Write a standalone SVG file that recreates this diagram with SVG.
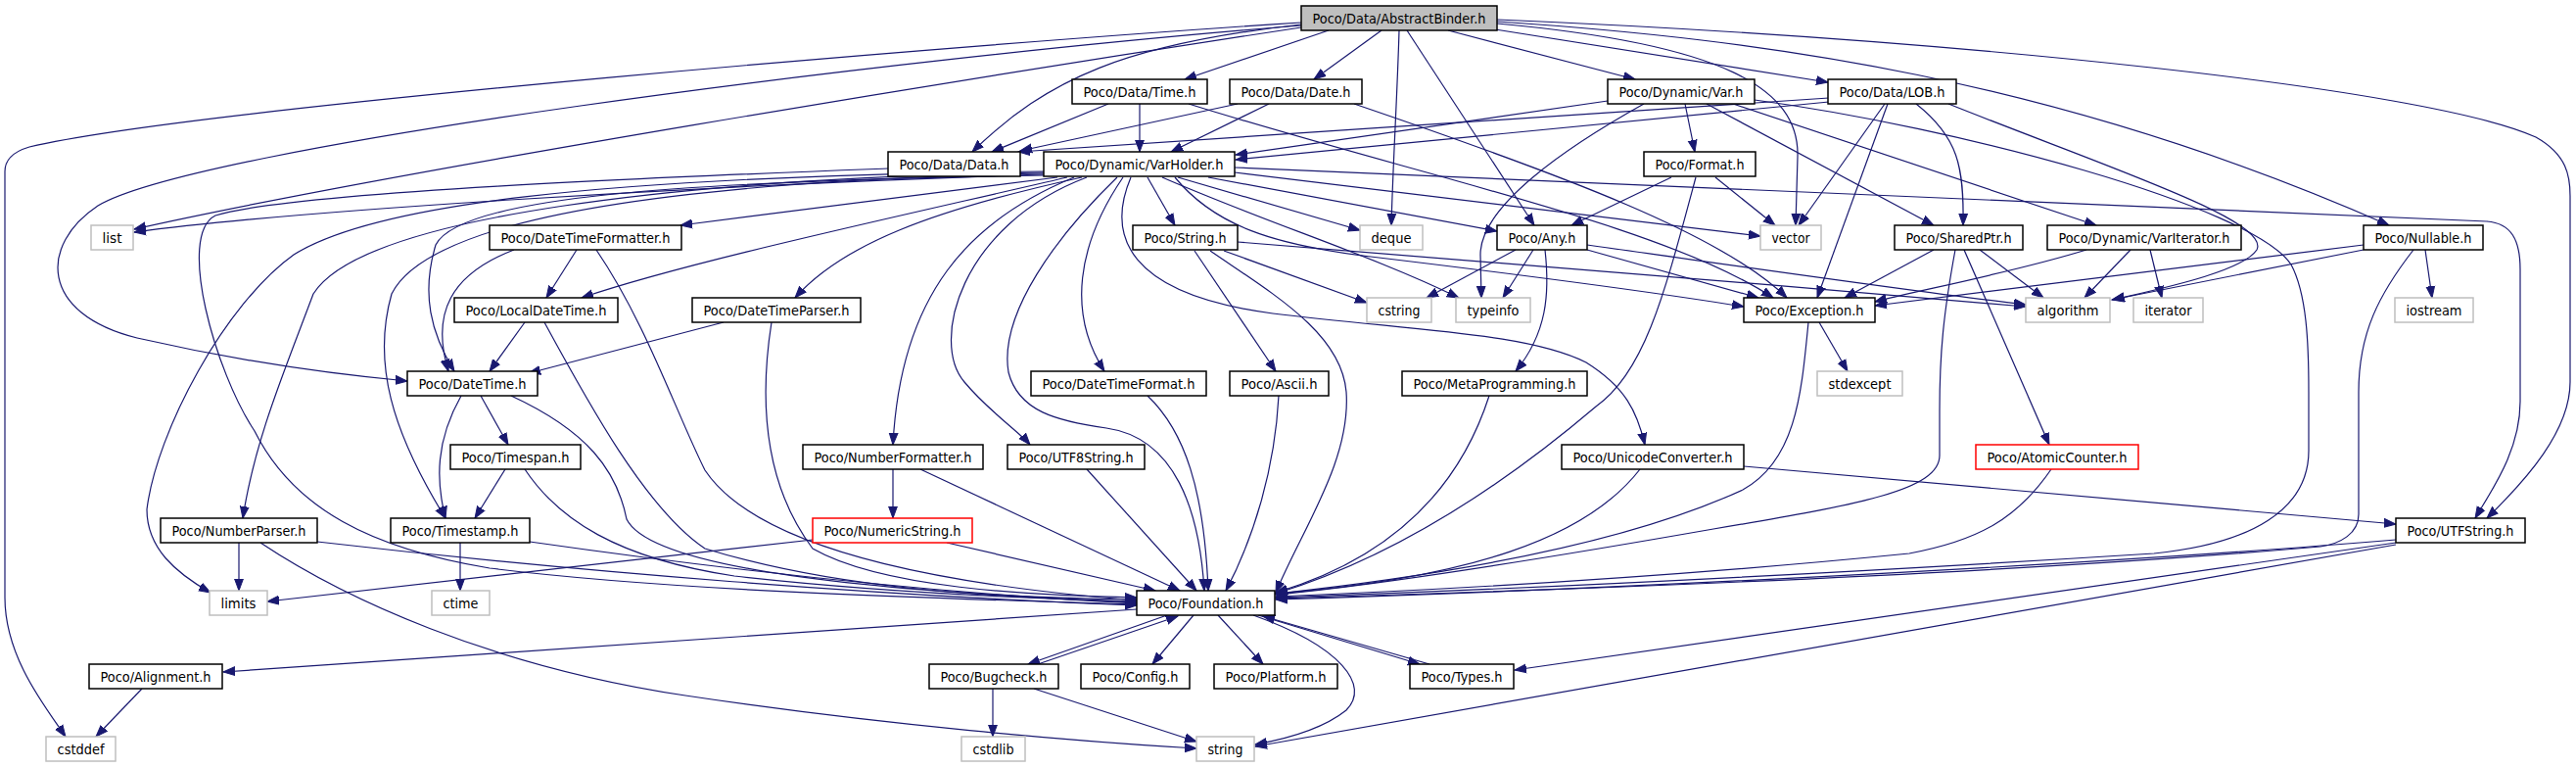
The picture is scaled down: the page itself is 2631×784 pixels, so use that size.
<svg xmlns="http://www.w3.org/2000/svg" width="2631" height="784" viewBox="0 0 2631 784">
<defs>
<marker id="ah" markerUnits="userSpaceOnUse" markerWidth="14" markerHeight="11" refX="12" refY="5" orient="auto" viewBox="0 0 14 10">
<path d="M0,0.6 L12,5 L0,9.4 Z" fill="#191970" stroke="#191970" stroke-width="1"/>
</marker>
<style>
.e{fill:none;stroke:#191970;stroke-width:1.2;marker-end:url(#ah)}
.n rect{fill:#ffffff;stroke:#000000;stroke-width:1.5}
.x rect{stroke:#bfbfbf}
.r rect{stroke:#ff0000}
.root rect{fill:#bfbfbf}
text{font-family:"DejaVu Sans Condensed","DejaVu Sans",sans-serif;font-stretch:condensed;font-size:14px;text-anchor:middle;fill:#000000}
</style>
</defs>
<rect x="0" y="0" width="2631" height="784" fill="#ffffff"/>
<g id="edges">
<!-- AbstractBinder -->
<path class="e" d="M1329,23 C1000,44 200,110 30,150 C10,156 5,165 5,175 L5,610 C5,670 45,720 67,752"/>
<path class="e" d="M1329,28 C1000,78 400,175 137,234"/>
<path class="e" d="M1329,26 C900,60 200,150 100,210 C40,250 40,320 140,345 C250,370 350,383 416,389"/>
<path class="e" d="M1329,25 C1150,45 1070,80 993,155"/>
<path class="e" d="M1357,31 L1210,81"/>
<path class="e" d="M1411,31 L1342,81"/>
<path class="e" d="M1429,31 C1427,100 1423,160 1421,230"/>
<path class="e" d="M1437,31 L1567,230"/>
<path class="e" d="M1479,31 L1670,81"/>
<path class="e" d="M1527,30 L1867,84"/>
<path class="e" d="M1529,24 C1760,45 1838,90 1836,160 L1834,230"/>
<path class="e" d="M1529,22 C1800,40 2100,80 2440,230"/>
<path class="e" d="M1529,20 C2000,40 2480,90 2590,140 C2622,158 2625,180 2625,200 L2625,390 C2625,440 2580,490 2540,529"/>
<!-- Data/Time.h -->
<path class="e" d="M1132,106 L1013,155"/>
<path class="e" d="M1164,106 L1164,155"/>
<path class="e" d="M1214,106 C1450,180 1700,230 1811,304"/>
<!-- Data/Date.h -->
<path class="e" d="M1264,106 L1042,154"/>
<path class="e" d="M1296,106 L1196,155"/>
<path class="e" d="M1383,106 C1600,180 1760,240 1825,304"/>
<!-- Dynamic/Var.h -->
<path class="e" d="M1642,103 L1262,158"/>
<path class="e" d="M1721,106 L1731,155"/>
<path class="e" d="M1679,106 C1600,150 1512,210 1512,260 L1513,304"/>
<path class="e" d="M1743,106 L1975,230"/>
<path class="e" d="M1770,106 L2141,230"/>
<path class="e" d="M1792,102 C2000,130 2300,210 2340,270 C2356,300 2358,350 2358,400 L2358,460 C2358,520 2300,555 2200,565 C1800,590 1500,603 1303,610"/>
<!-- Data/LOB.h -->
<path class="e" d="M1868,100 L1040,155"/>
<path class="e" d="M1868,104 L1262,163"/>
<path class="e" d="M1957,106 C2000,140 2006,170 2005,230"/>
<path class="e" d="M1925,106 L1837,230"/>
<path class="e" d="M1928,106 L1856,304"/>
<path class="e" d="M1990,106 C2150,170 2320,225 2305,255 C2290,278 2200,296 2158,306"/>
<!-- Format.h -->
<path class="e" d="M1707,181 L1605,230"/>
<path class="e" d="M1752,181 L1813,230"/>
<path class="e" d="M1732,181 C1700,300 1680,380 1630,415 C1530,500 1420,570 1303,606"/>
<!-- Data/Data.h -->
<path class="e" d="M907,172 C700,180 300,195 220,220 C180,240 220,380 260,440 C300,520 380,560 500,580 C700,605 1000,612 1161,617"/>
<!-- Dynamic/VarHolder.h -->
<path class="e" d="M1066,178 C700,190 300,215 137,237"/>
<path class="e" d="M1080,181 L695,230"/>
<path class="e" d="M1090,181 C900,225 700,268 594,304"/>
<path class="e" d="M1105,181 C950,215 860,250 812,304"/>
<path class="e" d="M1066,179 C700,185 470,200 445,250 C430,300 440,340 464,379"/>
<path class="e" d="M1066,177 C700,185 440,220 400,300 C380,370 400,440 455,529"/>
<path class="e" d="M1066,176 C700,182 370,220 320,300 C290,380 260,450 248,529"/>
<path class="e" d="M1066,175 C600,180 380,210 300,260 C230,310 160,440 150,520 C150,560 180,585 215,605"/>
<path class="e" d="M1141,181 C1080,240 1020,320 1030,380 C1040,420 1080,430 1130,437 C1200,447 1225,520 1230,603"/>
<path class="e" d="M1147,181 C1100,250 1090,320 1128,379"/>
<path class="e" d="M1097,181 C990,225 920,300 912,454"/>
<path class="e" d="M1110,181 C980,230 950,350 985,390 C1010,420 1040,440 1052,454"/>
<path class="e" d="M1172,181 L1200,230"/>
<path class="e" d="M1203,181 L1389,235"/>
<path class="e" d="M1234,181 L1529,236"/>
<path class="e" d="M1261,176 L1798,241"/>
<path class="e" d="M1187,181 C1300,230 1400,260 1490,304"/>
<path class="e" d="M1200,181 C1240,230 1300,250 1400,262 C1550,280 1700,300 1781,313"/>
<path class="e" d="M1155,181 C1130,240 1150,300 1300,320 C1450,338 1560,340 1620,370 C1660,395 1672,420 1680,454"/>
<path class="e" d="M1261,171 L2540,226 C2565,228 2574,245 2574,275 L2574,410 C2574,460 2545,500 2528,529"/>
<!-- DateTimeFormatter.h -->
<path class="e" d="M525,255 C460,280 440,320 458,379"/>
<path class="e" d="M589,255 L558,304"/>
<path class="e" d="M609,255 C660,330 690,420 720,480 C780,570 1000,600 1161,613"/>
<!-- LocalDateTime.h -->
<path class="e" d="M536,329 L500,379"/>
<path class="e" d="M556,329 C600,410 660,520 720,560 C850,600 1000,610 1161,612"/>
<!-- DateTimeParser.h -->
<path class="e" d="M739,329 L540,381"/>
<path class="e" d="M788,329 C780,380 770,480 830,560 C900,600 1050,608 1161,610"/>
<!-- String.h -->
<path class="e" d="M1220,256 L1303,379"/>
<path class="e" d="M1250,256 L1396,309"/>
<path class="e" d="M1264,247 C1500,265 1800,290 2069,313"/>
<path class="e" d="M1236,256 C1300,300 1370,340 1375,400 C1380,470 1330,540 1303,605"/>
<!-- Any.h -->
<path class="e" d="M1548,255 L1457,304"/>
<path class="e" d="M1566,255 L1535,304"/>
<path class="e" d="M1578,255 C1583,300 1580,340 1548,379"/>
<path class="e" d="M1621,255 L1796,304"/>
<path class="e" d="M1621,250 C1800,275 1950,297 2069,311"/>
<!-- SharedPtr.h -->
<path class="e" d="M1975,255 L1884,304"/>
<path class="e" d="M2022,255 L2087,304"/>
<path class="e" d="M1997,255 C1985,320 1981,360 1981,420 L1981,465 C1981,500 1900,515 1750,540 C1550,575 1400,598 1303,607"/>
<path class="e" d="M2006,255 L2093,454"/>
<!-- Dynamic/VarIterator.h -->
<path class="e" d="M2131,255 C2050,280 1950,298 1915,308"/>
<path class="e" d="M2176,255 L2129,304"/>
<path class="e" d="M2196,255 L2208,304"/>
<!-- Nullable.h -->
<path class="e" d="M2414,250 C2200,275 2000,300 1915,312"/>
<path class="e" d="M2414,255 L2157,306"/>
<path class="e" d="M2477,255 L2484,304"/>
<path class="e" d="M2465,255 C2430,300 2409,340 2409,400 L2409,525 C2409,545 2390,555 2370,558 C2000,590 1500,605 1303,611"/>
<!-- Exception.h -->
<path class="e" d="M1858,329 L1887,379"/>
<path class="e" d="M1847,329 C1840,400 1835,470 1780,500 C1650,560 1450,590 1303,606"/>
<!-- MetaProgramming.h, Ascii.h, DateTimeFormat.h -->
<path class="e" d="M1521,404 C1490,500 1420,570 1303,605"/>
<path class="e" d="M1306,404 C1302,480 1280,550 1252,603"/>
<path class="e" d="M1172,404 C1210,440 1230,500 1234,603"/>
<!-- NumberFormatter.h, UTF8String.h -->
<path class="e" d="M912,479 L912,529"/>
<path class="e" d="M940,479 L1205,603"/>
<path class="e" d="M1110,479 L1222,603"/>
<!-- NumericString.h -->
<path class="e" d="M967,554 L1180,603"/>
<path class="e" d="M830,551 L273,614"/>
<!-- UnicodeConverter.h -->
<path class="e" d="M1675,479 C1620,550 1500,590 1303,606"/>
<path class="e" d="M1781,476 L2447,535"/>
<!-- AtomicCounter.h -->
<path class="e" d="M2095,479 C2060,530 2020,552 1950,565 C1700,590 1450,603 1303,609"/>
<!-- UTFString.h -->
<path class="e" d="M2447,551 C2200,572 1700,600 1303,612"/>
<path class="e" d="M2447,554 L1547,684"/>
<path class="e" d="M2447,556 L1282,762"/>
<!-- Timespan.h -->
<path class="e" d="M516,479 L485,529"/>
<path class="e" d="M536,479 C570,530 630,570 750,588 C900,605 1050,611 1161,614"/>
<!-- DateTime.h -->
<path class="e" d="M471,404 C445,450 445,490 455,529"/>
<path class="e" d="M491,404 L519,454"/>
<path class="e" d="M522,404 C600,440 630,480 640,530 C660,570 800,600 1161,615"/>
<!-- Timestamp.h -->
<path class="e" d="M470,554 L470,603"/>
<path class="e" d="M541,553 C800,590 1000,608 1161,616"/>
<!-- NumberParser.h -->
<path class="e" d="M244,554 L244,603"/>
<path class="e" d="M324,553 C600,585 900,608 1161,618"/>
<path class="e" d="M266,554 C350,610 500,680 700,710 C900,740 1100,757 1222,764"/>
<!-- Foundation.h -->
<path class="e" d="M1161,622 L228,686"/>
<path class="e" d="M1192,628 L1050,678"/>
<path class="e" d="M1060,678 L1203,629"/>
<path class="e" d="M1219,628 L1177,678"/>
<path class="e" d="M1244,628 L1290,678"/>
<path class="e" d="M1285,628 L1450,678"/>
<path class="e" d="M1460,678 L1290,629"/>
<path class="e" d="M1280,628 C1370,660 1400,700 1375,725 C1350,745 1310,755 1282,760"/>
<!-- Bugcheck.h, Alignment.h -->
<path class="e" d="M1014,703 L1014,752"/>
<path class="e" d="M1056,703 L1222,757"/>
<path class="e" d="M145,703 L98,752"/>
</g>
<g id="node-AbstractBinder" class="n root"><rect x="1329" y="6" width="200" height="25"/><text x="1429" y="23.5" textLength="177" lengthAdjust="spacingAndGlyphs">Poco/Data/AbstractBinder.h</text></g>
<g id="node-DataTime" class="n"><rect x="1095" y="81" width="138" height="25"/><text x="1164" y="98.5" textLength="115" lengthAdjust="spacingAndGlyphs">Poco/Data/Time.h</text></g>
<g id="node-DataDate" class="n"><rect x="1256" y="81" width="135" height="25"/><text x="1323.5" y="98.5" textLength="112" lengthAdjust="spacingAndGlyphs">Poco/Data/Date.h</text></g>
<g id="node-DynamicVar" class="n"><rect x="1642" y="81" width="150" height="25"/><text x="1717" y="98.5" textLength="127" lengthAdjust="spacingAndGlyphs">Poco/Dynamic/Var.h</text></g>
<g id="node-DataLOB" class="n"><rect x="1867" y="81" width="131" height="25"/><text x="1932.5" y="98.5" textLength="108" lengthAdjust="spacingAndGlyphs">Poco/Data/LOB.h</text></g>
<g id="node-DataData" class="n"><rect x="907" y="155" width="135" height="25"/><text x="974.5" y="172.5" textLength="112" lengthAdjust="spacingAndGlyphs">Poco/Data/Data.h</text></g>
<g id="node-VarHolder" class="n"><rect x="1066" y="155" width="195" height="25"/><text x="1163.5" y="172.5" textLength="172" lengthAdjust="spacingAndGlyphs">Poco/Dynamic/VarHolder.h</text></g>
<g id="node-Format" class="n"><rect x="1679" y="155" width="114" height="25"/><text x="1736" y="172.5" textLength="91" lengthAdjust="spacingAndGlyphs">Poco/Format.h</text></g>
<g id="node-list" class="n x"><rect x="93" y="230" width="43" height="25"/><text x="114.5" y="247.5" textLength="20" lengthAdjust="spacingAndGlyphs">list</text></g>
<g id="node-DateTimeFormatter" class="n"><rect x="500" y="230" width="196" height="25"/><text x="598" y="247.5" textLength="173" lengthAdjust="spacingAndGlyphs">Poco/DateTimeFormatter.h</text></g>
<g id="node-String" class="n"><rect x="1157" y="230" width="107" height="25"/><text x="1210.5" y="247.5" textLength="84" lengthAdjust="spacingAndGlyphs">Poco/String.h</text></g>
<g id="node-deque" class="n x"><rect x="1389" y="230" width="64" height="25"/><text x="1421" y="247.5" textLength="41" lengthAdjust="spacingAndGlyphs">deque</text></g>
<g id="node-Any" class="n"><rect x="1529" y="230" width="92" height="25"/><text x="1575" y="247.5" textLength="69" lengthAdjust="spacingAndGlyphs">Poco/Any.h</text></g>
<g id="node-vector" class="n x"><rect x="1798" y="230" width="62" height="25"/><text x="1829" y="247.5" textLength="39" lengthAdjust="spacingAndGlyphs">vector</text></g>
<g id="node-SharedPtr" class="n"><rect x="1935" y="230" width="131" height="25"/><text x="2000.5" y="247.5" textLength="108" lengthAdjust="spacingAndGlyphs">Poco/SharedPtr.h</text></g>
<g id="node-VarIterator" class="n"><rect x="2091" y="230" width="198" height="25"/><text x="2190" y="247.5" textLength="175" lengthAdjust="spacingAndGlyphs">Poco/Dynamic/VarIterator.h</text></g>
<g id="node-Nullable" class="n"><rect x="2414" y="230" width="122" height="25"/><text x="2475" y="247.5" textLength="99" lengthAdjust="spacingAndGlyphs">Poco/Nullable.h</text></g>
<g id="node-LocalDateTime" class="n"><rect x="464" y="304" width="167" height="25"/><text x="547.5" y="321.5" textLength="144" lengthAdjust="spacingAndGlyphs">Poco/LocalDateTime.h</text></g>
<g id="node-DateTimeParser" class="n"><rect x="707" y="304" width="172" height="25"/><text x="793" y="321.5" textLength="149" lengthAdjust="spacingAndGlyphs">Poco/DateTimeParser.h</text></g>
<g id="node-cstring" class="n x"><rect x="1396" y="304" width="66" height="25"/><text x="1429" y="321.5" textLength="43" lengthAdjust="spacingAndGlyphs">cstring</text></g>
<g id="node-typeinfo" class="n x"><rect x="1487" y="304" width="76" height="25"/><text x="1525" y="321.5" textLength="53" lengthAdjust="spacingAndGlyphs">typeinfo</text></g>
<g id="node-Exception" class="n"><rect x="1781" y="304" width="134" height="25"/><text x="1848" y="321.5" textLength="111" lengthAdjust="spacingAndGlyphs">Poco/Exception.h</text></g>
<g id="node-algorithm" class="n x"><rect x="2069" y="304" width="86" height="25"/><text x="2112" y="321.5" textLength="63" lengthAdjust="spacingAndGlyphs">algorithm</text></g>
<g id="node-iterator" class="n x"><rect x="2179" y="304" width="71" height="25"/><text x="2214.5" y="321.5" textLength="48" lengthAdjust="spacingAndGlyphs">iterator</text></g>
<g id="node-iostream" class="n x"><rect x="2446" y="304" width="80" height="25"/><text x="2486" y="321.5" textLength="57" lengthAdjust="spacingAndGlyphs">iostream</text></g>
<g id="node-DateTime" class="n"><rect x="416" y="379" width="133" height="25"/><text x="482.5" y="396.5" textLength="110" lengthAdjust="spacingAndGlyphs">Poco/DateTime.h</text></g>
<g id="node-DateTimeFormat" class="n"><rect x="1053" y="379" width="179" height="25"/><text x="1142.5" y="396.5" textLength="156" lengthAdjust="spacingAndGlyphs">Poco/DateTimeFormat.h</text></g>
<g id="node-Ascii" class="n"><rect x="1256" y="379" width="101" height="25"/><text x="1306.5" y="396.5" textLength="78" lengthAdjust="spacingAndGlyphs">Poco/Ascii.h</text></g>
<g id="node-MetaProgramming" class="n"><rect x="1432" y="379" width="189" height="25"/><text x="1526.5" y="396.5" textLength="166" lengthAdjust="spacingAndGlyphs">Poco/MetaProgramming.h</text></g>
<g id="node-stdexcept" class="n x"><rect x="1856" y="379" width="87" height="25"/><text x="1899.5" y="396.5" textLength="64" lengthAdjust="spacingAndGlyphs">stdexcept</text></g>
<g id="node-Timespan" class="n"><rect x="460" y="454" width="133" height="25"/><text x="526.5" y="471.5" textLength="110" lengthAdjust="spacingAndGlyphs">Poco/Timespan.h</text></g>
<g id="node-NumberFormatter" class="n"><rect x="820" y="454" width="184" height="25"/><text x="912" y="471.5" textLength="161" lengthAdjust="spacingAndGlyphs">Poco/NumberFormatter.h</text></g>
<g id="node-UTF8String" class="n"><rect x="1029" y="454" width="140" height="25"/><text x="1099" y="471.5" textLength="117" lengthAdjust="spacingAndGlyphs">Poco/UTF8String.h</text></g>
<g id="node-UnicodeConverter" class="n"><rect x="1595" y="454" width="186" height="25"/><text x="1688" y="471.5" textLength="163" lengthAdjust="spacingAndGlyphs">Poco/UnicodeConverter.h</text></g>
<g id="node-AtomicCounter" class="n r"><rect x="2018" y="454" width="166" height="25"/><text x="2101" y="471.5" textLength="143" lengthAdjust="spacingAndGlyphs">Poco/AtomicCounter.h</text></g>
<g id="node-NumberParser" class="n"><rect x="164" y="529" width="160" height="25"/><text x="244" y="546.5" textLength="137" lengthAdjust="spacingAndGlyphs">Poco/NumberParser.h</text></g>
<g id="node-Timestamp" class="n"><rect x="399" y="529" width="142" height="25"/><text x="470" y="546.5" textLength="119" lengthAdjust="spacingAndGlyphs">Poco/Timestamp.h</text></g>
<g id="node-NumericString" class="n r"><rect x="830" y="529" width="163" height="25"/><text x="911.5" y="546.5" textLength="140" lengthAdjust="spacingAndGlyphs">Poco/NumericString.h</text></g>
<g id="node-UTFString" class="n"><rect x="2447" y="529" width="132" height="25"/><text x="2513" y="546.5" textLength="109" lengthAdjust="spacingAndGlyphs">Poco/UTFString.h</text></g>
<g id="node-limits" class="n x"><rect x="214" y="603" width="59" height="25"/><text x="243.5" y="620.5" textLength="36" lengthAdjust="spacingAndGlyphs">limits</text></g>
<g id="node-ctime" class="n x"><rect x="441" y="603" width="59" height="25"/><text x="470.5" y="620.5" textLength="36" lengthAdjust="spacingAndGlyphs">ctime</text></g>
<g id="node-Foundation" class="n"><rect x="1161" y="603" width="141" height="25"/><text x="1231.5" y="620.5" textLength="118" lengthAdjust="spacingAndGlyphs">Poco/Foundation.h</text></g>
<g id="node-Alignment" class="n"><rect x="91" y="678" width="136" height="25"/><text x="159" y="695.5" textLength="113" lengthAdjust="spacingAndGlyphs">Poco/Alignment.h</text></g>
<g id="node-Bugcheck" class="n"><rect x="949" y="678" width="132" height="25"/><text x="1015" y="695.5" textLength="109" lengthAdjust="spacingAndGlyphs">Poco/Bugcheck.h</text></g>
<g id="node-Config" class="n"><rect x="1104" y="678" width="111" height="25"/><text x="1159.5" y="695.5" textLength="88" lengthAdjust="spacingAndGlyphs">Poco/Config.h</text></g>
<g id="node-Platform" class="n"><rect x="1240" y="678" width="126" height="25"/><text x="1303" y="695.5" textLength="103" lengthAdjust="spacingAndGlyphs">Poco/Platform.h</text></g>
<g id="node-Types" class="n"><rect x="1440" y="678" width="106" height="25"/><text x="1493" y="695.5" textLength="83" lengthAdjust="spacingAndGlyphs">Poco/Types.h</text></g>
<g id="node-cstddef" class="n x"><rect x="47" y="752" width="71" height="25"/><text x="82.5" y="769.5" textLength="48" lengthAdjust="spacingAndGlyphs">cstddef</text></g>
<g id="node-cstdlib" class="n x"><rect x="982" y="752" width="65" height="25"/><text x="1014.5" y="769.5" textLength="42" lengthAdjust="spacingAndGlyphs">cstdlib</text></g>
<g id="node-string" class="n x"><rect x="1222" y="752" width="59" height="25"/><text x="1251.5" y="769.5" textLength="36" lengthAdjust="spacingAndGlyphs">string</text></g>
</svg>
